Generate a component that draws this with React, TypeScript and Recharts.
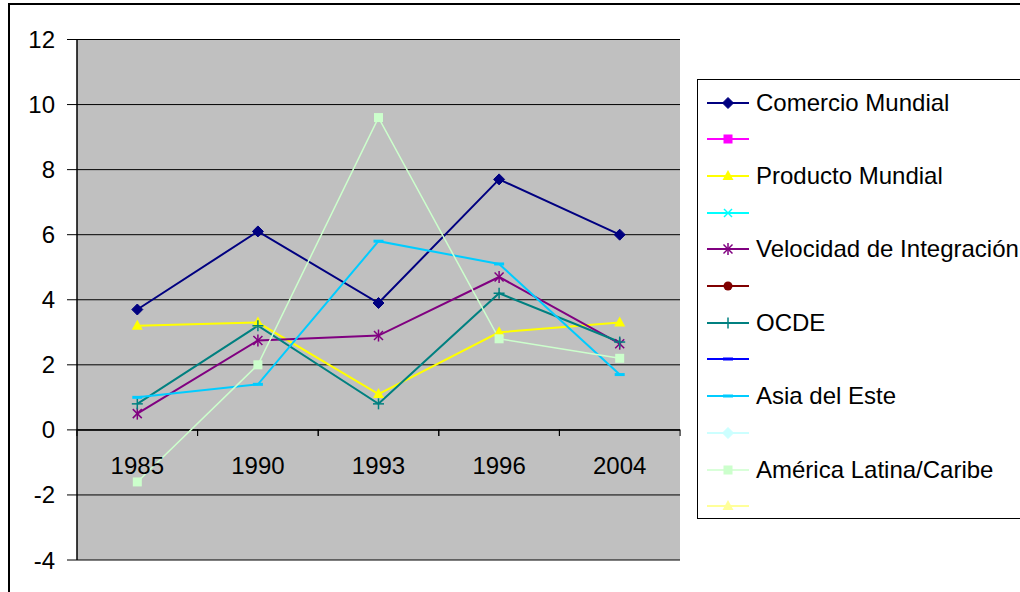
import React from 'react';
import { LineChart, Line, XAxis, YAxis, CartesianGrid, ReferenceLine } from 'recharts';

const years = ['1985', '1990', '1993', '1996', '2004'];
const comercioMundial = [3.7, 6.1, 3.9, 7.7, 6.0];
const productoMundial = [3.2, 3.3, 1.1, 3.0, 3.3];
const velocidadIntegracion = [0.5, 2.75, 2.9, 4.7, 2.65];
const ocde = [0.8, 3.2, 0.8, 4.2, 2.7];
const asiaEste = [1.0, 1.4, 5.8, 5.1, 1.7];
const americaLatina = [-1.6, 2.0, 9.6, 2.8, 2.2];
const yTicks = [-4, -2, 0, 2, 4, 6, 8, 10, 12];

const data = years.map((year, i) => ({
	year,
	comercio: comercioMundial[i],
	producto: productoMundial[i],
	velocidad: velocidadIntegracion[i],
	ocde: ocde[i],
	asia: asiaEste[i],
	america: americaLatina[i],
}));

type Shape = 'diamond' | 'square' | 'triangle' | 'x' | 'star' | 'circle' | 'plus' | 'dash';

// series in Excel order; blank names are the unlabeled legend entries
const series: { key?: string; name: string; color: string; shape: Shape; width: number }[] = [
	{ key: 'comercio', name: 'Comercio Mundial', color: '#000080', shape: 'diamond', width: 2 },
	{ name: '', color: '#FF00FF', shape: 'square', width: 2 },
	{ key: 'producto', name: 'Producto Mundial', color: '#FFFF00', shape: 'triangle', width: 2 },
	{ name: '', color: '#00FFFF', shape: 'x', width: 2 },
	{ key: 'velocidad', name: 'Velocidad de Integración', color: '#800080', shape: 'star', width: 2 },
	{ name: '', color: '#800000', shape: 'circle', width: 2 },
	{ key: 'ocde', name: 'OCDE', color: '#008080', shape: 'plus', width: 2 },
	{ name: '', color: '#0000FF', shape: 'dash', width: 2 },
	{ key: 'asia', name: 'Asia del Este', color: '#00CCFF', shape: 'dash', width: 2 },
	{ name: '', color: '#CCFFFF', shape: 'diamond', width: 2 },
	{ key: 'america', name: 'América Latina/Caribe', color: '#CCFFCC', shape: 'square', width: 1.5 },
	{ name: '', color: '#FFFF99', shape: 'triangle', width: 2 },
];

const FONT = '"Liberation Sans", Arial, sans-serif';

function Marker({ cx, cy, shape, color }: { cx: number; cy: number; shape: Shape; color: string }) {
	switch (shape) {
		case 'diamond':
			return <polygon points={`${cx},${cy - 5.5} ${cx + 5.5},${cy} ${cx},${cy + 5.5} ${cx - 5.5},${cy}`} fill={color} stroke={color} />;
		case 'square':
			return <rect x={cx - 4.5} y={cy - 4.5} width={9} height={9} fill={color} />;
		case 'triangle':
			return <polygon points={`${cx},${cy - 6} ${cx + 5.5},${cy + 4} ${cx - 5.5},${cy + 4}`} fill={color} />;
		case 'x':
			return (
				<g stroke={color} strokeWidth={1.5}>
					<line x1={cx - 4} y1={cy - 4} x2={cx + 4} y2={cy + 4} />
					<line x1={cx - 4} y1={cy + 4} x2={cx + 4} y2={cy - 4} />
				</g>
			);
		case 'star':
			return (
				<g stroke={color} strokeWidth={1.5}>
					<line x1={cx - 4.5} y1={cy - 4.5} x2={cx + 4.5} y2={cy + 4.5} />
					<line x1={cx - 4.5} y1={cy + 4.5} x2={cx + 4.5} y2={cy - 4.5} />
					<line x1={cx} y1={cy - 6} x2={cx} y2={cy + 6} />
				</g>
			);
		case 'circle':
			return <circle cx={cx} cy={cy} r={4.5} fill={color} />;
		case 'plus':
			return (
				<g stroke={color} strokeWidth={1.5}>
					<line x1={cx - 5.5} y1={cy} x2={cx + 5.5} y2={cy} />
					<line x1={cx} y1={cy - 5.5} x2={cx} y2={cy + 5.5} />
				</g>
			);
		case 'dash':
		default:
			return <rect x={cx - 5} y={cy - 1.5} width={10} height={3} fill={color} />;
	}
}

const XTick = ({ x, y, payload }: any) => (
	<g>
		<line x1={x - 60.4} y1={y - 130.5} x2={x - 60.4} y2={y - 124} stroke="#000" />
		<line x1={x + 60.4} y1={y - 130.5} x2={x + 60.4} y2={y - 124} stroke="#000" />
		<text x={x} y={y - 86} textAnchor="middle" fontSize={24} fontFamily={FONT} fill="#000">
			{payload.value}
		</text>
	</g>
);

function ChartLegend() {
	return (
		<div
			style={{
				position: 'absolute',
				left: 697,
				top: 79,
				width: 400,
				height: 440,
				border: '1px solid #000',
				background: '#fff',
				boxSizing: 'border-box',
			}}
		>
			{series.map((s, i) => (
				<div
					key={i}
					style={{
						position: 'absolute',
						left: 8,
						top: 22.5 + i * 36.7 - 15,
						height: 30,
						display: 'flex',
						alignItems: 'center',
						whiteSpace: 'nowrap',
					}}
				>
					<svg width={44} height={30} style={{ display: 'block' }}>
						<line x1={1} y1={15} x2={43} y2={15} stroke={s.color} strokeWidth={s.width} />
						<Marker cx={22} cy={15} shape={s.shape} color={s.color} />
					</svg>
					<span style={{ marginLeft: 6, fontSize: 24, fontFamily: FONT, color: '#000', lineHeight: '30px' }}>{s.name}</span>
				</div>
			))}
		</div>
	);
}

export default function App() {
	return (
		<div style={{ position: 'fixed', left: 0, top: 0, width: 1020, height: 592, overflow: 'hidden', background: '#fff' }}>
			<div
				style={{
					position: 'absolute',
					left: 8,
					top: 3,
					width: 1100,
					height: 700,
					borderLeft: '2px solid #000',
					borderTop: '2px solid #000',
				}}
			/>
			<div style={{ position: 'absolute', left: 0, top: 0 }}>
				<LineChart width={700} height={592} data={data} margin={{ top: 39.5, right: 20, left: 0, bottom: 2 }}>
					<CartesianGrid vertical={false} stroke="#000" strokeWidth={1} fill="#C0C0C0" fillOpacity={1} />
					<XAxis
						dataKey="year"
						scale="band"
						height={30}
						axisLine={false}
						tickLine={false}
						tickSize={0}
						tickMargin={0}
						interval={0}
						tick={<XTick />}
					/>
					<YAxis
						domain={[-4, 12]}
						ticks={yTicks}
						interval={0}
						width={77}
						tickSize={10}
						tickMargin={12}
						axisLine={{ stroke: '#000', strokeWidth: 1.5 }}
						tickLine={{ stroke: '#000' }}
						tick={{ fill: '#000', fontSize: 24, fontFamily: FONT }}
					/>
					<ReferenceLine y={0} stroke="#000" strokeWidth={1.5} />
					{series
						.filter((s) => s.key)
						.map((s) => (
							<Line
								key={s.key}
								dataKey={s.key as string}
								name={s.name}
								stroke={s.color}
								strokeWidth={s.width}
								isAnimationActive={false}
								dot={(p: any) => (
									<Marker key={`${s.key}-${p.index}`} cx={p.cx} cy={p.cy} shape={s.shape} color={s.color} />
								)}
								activeDot={false}
							/>
						))}
				</LineChart>
			</div>
			<ChartLegend />
		</div>
	);
}
